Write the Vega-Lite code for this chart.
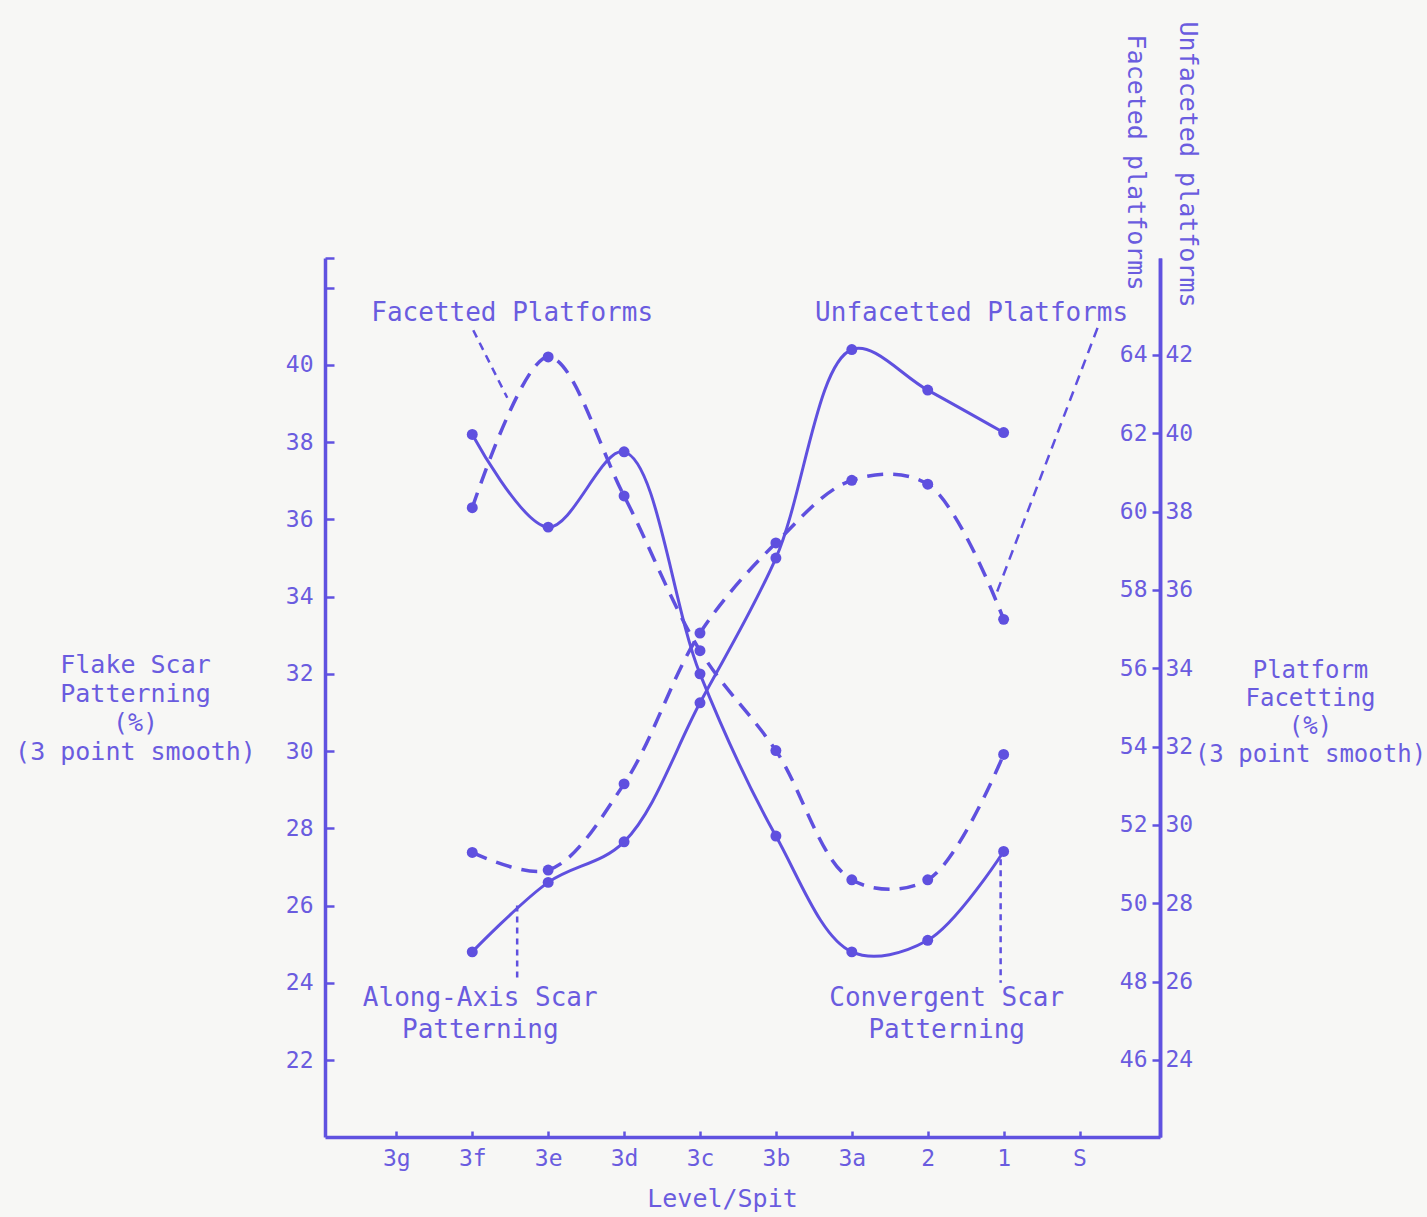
{
  "$schema": "https://vega.github.io/schema/vega-lite/v6.json",
  "width": 835,
  "height": 879,
  "autosize": {"type": "none"},
  "padding": {"left": 325, "top": 258, "right": 267, "bottom": 80},
  "background": "#f7f7f5",
  "config": {
    "view": {"stroke": null},
    "font": "DejaVu Sans Mono",
    "axis": {
      "labelFont": "DejaVu Sans Mono",
      "labelFontSize": 23,
      "labelColor": "#6a5cdf",
      "titleFont": "DejaVu Sans Mono",
      "titleFontSize": 25,
      "titleColor": "#6a5cdf",
      "titleFontWeight": "normal",
      "domainColor": "#6052e0",
      "domainWidth": 3.5,
      "tickColor": "#6052e0",
      "tickWidth": 2.5,
      "grid": false,
      "labelOverlap": false,
      "labelFlush": false
    }
  },
  "datasets": {
    "flake": [
      {"level": "3f", "series": "Convergent", "value": 38.2},
      {"level": "3e", "series": "Convergent", "value": 35.8},
      {"level": "3d", "series": "Convergent", "value": 37.75},
      {"level": "3c", "series": "Convergent", "value": 32.0},
      {"level": "3b", "series": "Convergent", "value": 27.8},
      {"level": "3a", "series": "Convergent", "value": 24.8},
      {"level": "2", "series": "Convergent", "value": 25.1},
      {"level": "1", "series": "Convergent", "value": 27.4},
      {"level": "3f", "series": "Along-Axis", "value": 24.8},
      {"level": "3e", "series": "Along-Axis", "value": 26.6},
      {"level": "3d", "series": "Along-Axis", "value": 27.65},
      {"level": "3c", "series": "Along-Axis", "value": 31.25},
      {"level": "3b", "series": "Along-Axis", "value": 35.0},
      {"level": "3a", "series": "Along-Axis", "value": 40.4},
      {"level": "2", "series": "Along-Axis", "value": 39.35},
      {"level": "1", "series": "Along-Axis", "value": 38.25}
    ],
    "platform": [
      {"level": "3f", "series": "Faceted", "value": 60.1},
      {"level": "3e", "series": "Faceted", "value": 63.95},
      {"level": "3d", "series": "Faceted", "value": 60.4},
      {"level": "3c", "series": "Faceted", "value": 56.45},
      {"level": "3b", "series": "Faceted", "value": 53.9},
      {"level": "3a", "series": "Faceted", "value": 50.6},
      {"level": "2", "series": "Faceted", "value": 50.6},
      {"level": "1", "series": "Faceted", "value": 53.8},
      {"level": "3f", "series": "Unfaceted", "value": 29.3},
      {"level": "3e", "series": "Unfaceted", "value": 28.85},
      {"level": "3d", "series": "Unfaceted", "value": 31.05},
      {"level": "3c", "series": "Unfaceted", "value": 34.9},
      {"level": "3b", "series": "Unfaceted", "value": 37.2},
      {"level": "3a", "series": "Unfaceted", "value": 38.8},
      {"level": "2", "series": "Unfaceted", "value": 38.7},
      {"level": "1", "series": "Unfaceted", "value": 35.25}
    ]
  },
  "layer": [
    {
      "layer": [
        {
          "data": {"name": "flake"},
          "mark": {"type": "line", "interpolate": "catmull-rom", "strokeWidth": 3, "color": "#5f50df"},
          "encoding": {
            "x": {
              "field": "level", "type": "ordinal",
              "scale": {"type": "point", "domain": ["3g", "3f", "3e", "3d", "3c", "3b", "3a", "2", "1", "S"], "padding": 1, "align": 0.47},
              "axis": {"title": "Level/Spit", "labelAngle": 0, "tickSize": -6, "labelPadding": 16, "labelBaseline": "top", "titleX": 397, "titleY": 61, "titleBaseline": "middle", "titleAlign": "center"}
            },
            "y": {
              "field": "value", "type": "quantitative",
              "scale": {"domain": [20.006, 42.77], "nice": false, "zero": false},
              "axis": {
                "orient": "left",
                "values": [22, 24, 26, 28, 30, 32, 34, 36, 38, 40, 42, 42.77],
                "labelExpr": "datum.value > 41 ? '' : datum.label",
                "tickSize": -9,
                "labelPadding": 21,
                "title": ["Flake Scar", "Patterning", "(%)", "(3 point smooth)"],
                "titleAngle": 0,
                "titleAlign": "center",
                "titleBaseline": "middle",
                "titleX": -190,
                "titleY": 406,
                "titleLineHeight": 29
              }
            },
            "detail": {"field": "series"}
          }
        },
        {
          "data": {"name": "flake"},
          "mark": {"type": "point", "filled": true, "size": 120, "opacity": 1, "color": "#5f50df"},
          "encoding": {
            "x": {"field": "level", "type": "ordinal"},
            "y": {"field": "value", "type": "quantitative"}
          }
        },
        {
          "data": {"values": [{}]},
          "mark": {"type": "text", "text": "Facetted Platforms", "fontSize": 26, "font": "DejaVu Sans Mono", "color": "#6a5cdf", "dx": -36, "baseline": "middle"},
          "encoding": {"x": {"datum": "3e", "type": "ordinal"}, "y": {"datum": 41.35, "type": "quantitative"}}
        },
        {
          "data": {"values": [{}]},
          "mark": {"type": "text", "text": "Unfacetted Platforms", "fontSize": 26, "font": "DejaVu Sans Mono", "color": "#6a5cdf", "dx": -32, "baseline": "middle"},
          "encoding": {"x": {"datum": "1", "type": "ordinal"}, "y": {"datum": 41.35, "type": "quantitative"}}
        },
        {
          "data": {"values": [{}]},
          "mark": {"type": "text", "text": ["Along-Axis Scar", "Patterning"], "lineHeight": 32, "fontSize": 26, "font": "DejaVu Sans Mono", "color": "#6a5cdf", "dx": 8, "baseline": "middle"},
          "encoding": {"x": {"datum": "3f", "type": "ordinal"}, "y": {"datum": 23.61, "type": "quantitative"}}
        },
        {
          "data": {"values": [{}]},
          "mark": {"type": "text", "text": ["Convergent Scar", "Patterning"], "lineHeight": 32, "fontSize": 26, "font": "DejaVu Sans Mono", "color": "#6a5cdf", "dx": 19, "baseline": "middle"},
          "encoding": {"x": {"datum": "2", "type": "ordinal"}, "y": {"datum": 23.61, "type": "quantitative"}}
        },
        {
          "data": {"values": [{}]},
          "mark": {"type": "rule", "strokeDash": [8, 6], "strokeWidth": 2.5, "color": "#5f50df", "xOffset": 1, "x2Offset": 35},
          "encoding": {"x": {"datum": "3f", "type": "ordinal"}, "x2": {"datum": "3f"}, "y": {"datum": 40.9, "type": "quantitative"}, "y2": {"datum": 39.15}}
        },
        {
          "data": {"values": [{}]},
          "mark": {"type": "rule", "strokeDash": [10, 7], "strokeWidth": 2.5, "color": "#5f50df", "xOffset": 18, "x2Offset": -9},
          "encoding": {"x": {"datum": "S", "type": "ordinal"}, "x2": {"datum": "1"}, "y": {"datum": 40.96, "type": "quantitative"}, "y2": {"datum": 33.96}}
        },
        {
          "data": {"values": [{}]},
          "mark": {"type": "rule", "strokeDash": [6, 5], "strokeWidth": 2.5, "color": "#5f50df", "xOffset": -31, "x2Offset": -31},
          "encoding": {"x": {"datum": "3e", "type": "ordinal"}, "x2": {"datum": "3e"}, "y": {"datum": 26.0, "type": "quantitative"}, "y2": {"datum": 24.1}}
        },
        {
          "data": {"values": [{}]},
          "mark": {"type": "rule", "strokeDash": [6, 5], "strokeWidth": 2.5, "color": "#5f50df", "xOffset": -3, "x2Offset": -3},
          "encoding": {"x": {"datum": "1", "type": "ordinal"}, "x2": {"datum": "1"}, "y": {"datum": 27.2, "type": "quantitative"}, "y2": {"datum": 24.0}}
        }
      ]
    },
    {
      "data": {"name": "platform"},
      "transform": [{"filter": "datum.series === 'Faceted'"}],
      "layer": [
        {
          "mark": {"type": "line", "interpolate": "catmull-rom", "strokeWidth": 3.5, "strokeDash": [16, 10], "color": "#5f50df"},
          "encoding": {
            "x": {"field": "level", "type": "ordinal"},
            "y": {
              "field": "value", "type": "quantitative",
              "scale": {"domain": [44.034, 66.476], "nice": false, "zero": false},
              "axis": {
                "orient": "left", "offset": -835,
                "values": [46, 48, 50, 52, 54, 56, 58, 60, 62, 64],
                "tickSize": 8, "labelPadding": 5,
                "title": "Faceted platforms", "titleAngle": 90, "titleAlign": "center", "titleBaseline": "middle",
                "titleX": -25, "titleY": -96
              }
            }
          }
        },
        {
          "mark": {"type": "point", "filled": true, "size": 120, "opacity": 1, "color": "#5f50df"},
          "encoding": {
            "x": {"field": "level", "type": "ordinal"},
            "y": {"field": "value", "type": "quantitative"}
          }
        }
      ]
    },
    {
      "data": {"name": "platform"},
      "transform": [{"filter": "datum.series === 'Unfaceted'"}],
      "layer": [
        {
          "mark": {"type": "line", "interpolate": "catmull-rom", "strokeWidth": 3.5, "strokeDash": [16, 10], "color": "#5f50df"},
          "encoding": {
            "x": {"field": "level", "type": "ordinal"},
            "y": {
              "field": "value", "type": "quantitative",
              "scale": {"domain": [22.034, 44.476], "nice": false, "zero": false},
              "axis": {
                "orient": "right",
                "values": [24, 26, 28, 30, 32, 34, 36, 38, 40, 42],
                "ticks": false, "labelPadding": 5,
                "title": "Unfaceted platforms", "titleAngle": 90, "titleAlign": "center", "titleBaseline": "middle",
                "titleX": 27, "titleY": -94
              }
            }
          }
        },
        {
          "mark": {"type": "point", "filled": true, "size": 120, "opacity": 1, "color": "#5f50df"},
          "encoding": {
            "x": {"field": "level", "type": "ordinal"},
            "y": {"field": "value", "type": "quantitative"}
          }
        }
      ]
    },
    {
      "data": {"values": [{}]},
      "mark": {"type": "point", "opacity": 0},
      "encoding": {
        "y": {
          "datum": 0.5, "type": "quantitative",
          "scale": {"domain": [0, 1]},
          "axis": {
            "orient": "right", "labels": false, "ticks": false, "domain": false,
            "title": ["Platform", "Facetting", "(%)", "(3 point smooth)"],
            "titleFontSize": 24,
            "titleAngle": 0, "titleAlign": "center", "titleBaseline": "middle",
            "titleX": 150, "titleY": 412, "titleLineHeight": 28
          }
        }
      }
    }
  ],
  "resolve": {"scale": {"y": "independent"}, "axis": {"y": "independent"}}
}
